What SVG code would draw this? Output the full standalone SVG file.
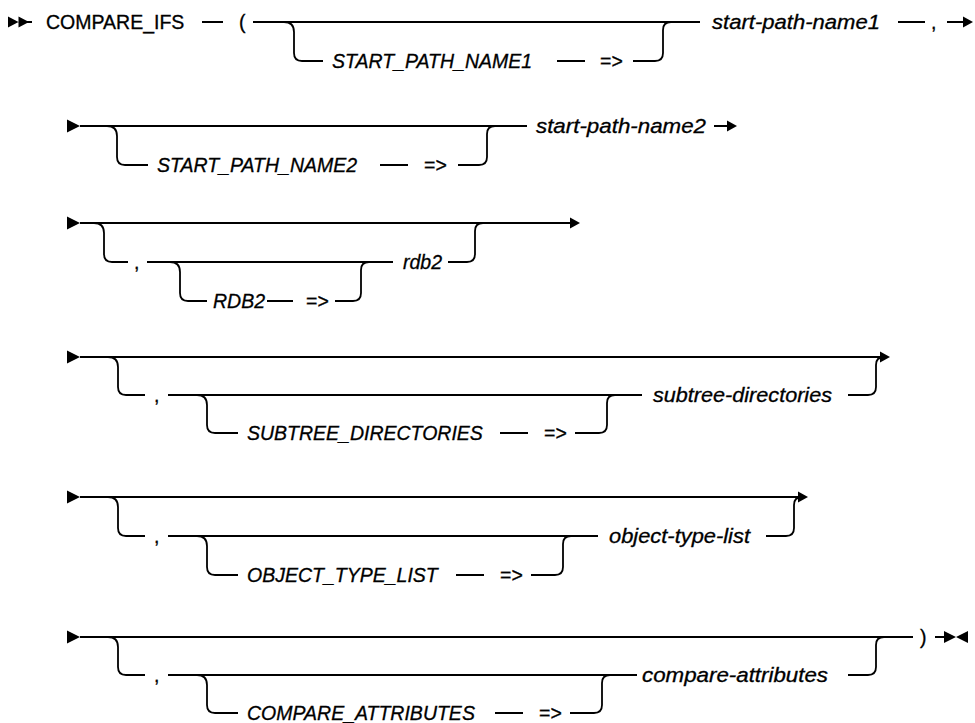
<svg xmlns="http://www.w3.org/2000/svg" xmlns:xlink="http://www.w3.org/1999/xlink" width="975" height="723" viewBox="0 0 975 723">
<defs>
<style>
.t{font-family:"Liberation Sans",Arial,sans-serif;font-size:19.5px;fill:#000;stroke:#000;stroke-width:0.3}
.i{font-style:italic}
.l{fill:none;stroke:#000;stroke-width:1.8}
.a{fill:#000;stroke:none}
</style>
<path id="tri" d="M0,-6.5 L13,0 L0,6.5 Z"/>
<path id="arr" d="M-10,-5.5 L0,0 L-10,5.5 Z"/>
</defs>
<rect width="975" height="723" fill="#fff"/>

<g id="connectors">
<!-- row 1 -->
<path class="l" d="M27,22 H32 M202,22 H223 M253,22 H700 M284,22 Q294,22 294,32 V53 Q294,61 302,61 H323 M557,61 H585 M633,61 H655 Q663,61 663,53 V30 Q663,22 671,22 M898,22 H925 M947,22 H964"/>
<!-- row 2 -->
<path class="l" d="M80,126 H527 M107,126 Q117,126 117,136 V157 Q117,165 125,165 H148 M380,165 H408 M458,165 H479 Q487,165 487,157 V134 Q487,126 495,126 M714,126 H728"/>
<!-- row 3 -->
<path class="l" d="M80,223 H571 M94,223 Q104,223 104,233 V254 Q104,262 112,262 H128 M147,262 H393 M170,262 Q180,262 180,272 V293 Q180,301 188,301 H207 M267,301 H293 M335,301 H353 Q361,301 361,293 V270 Q361,262 369,262 M448,262 H467 Q475,262 475,254 V231 Q475,223 483,223"/>
<!-- row 4 -->
<path class="l" d="M80,357 H881 M108,357 Q118,357 118,367 V387 Q118,395 126,395 H145 M168,395 H642 M197,395 Q207,395 207,405 V425 Q207,433 215,433 H238 M500,433 H528 M575,433 H599 Q607,433 607,425 V403 Q607,395 615,395 M848,395 H868 Q876,395 876,387 V365 Q876,357 884,357"/>
<!-- row 5 -->
<path class="l" d="M80,497 H799 M108,497 Q118,497 118,507 V528 Q118,536 126,536 H145 M168,536 H598 M197,536 Q207,536 207,546 V567 Q207,575 215,575 H238 M456,575 H484 M531,575 H555 Q563,575 563,567 V544 Q563,536 571,536 M766,536 H786 Q794,536 794,528 V505 Q794,497 802,497"/>
<!-- row 6 -->
<path class="l" d="M80,637 H913 M108,637 Q118,637 118,647 V667 Q118,675 126,675 H145 M168,675 H637 M197,675 Q207,675 207,685 V705 Q207,713 215,713 H238 M495,713 H523 M570,713 H594 Q602,713 602,705 V683 Q602,675 610,675 M848,675 H868 Q876,675 876,667 V645 Q876,637 884,637 M935,637 H945"/>
<!-- start / end markers -->
<path class="a" d="M8,16.5 L18.5,22 L8,27.5 Z M18.5,16.5 L29,22 L18.5,27.5 Z"/>
<use xlink:href="#tri" x="67" y="126" class="a"/>
<use xlink:href="#tri" x="67" y="223" class="a"/>
<use xlink:href="#tri" x="67" y="357" class="a"/>
<use xlink:href="#tri" x="67" y="497" class="a"/>
<use xlink:href="#tri" x="67" y="637" class="a"/>
<use xlink:href="#arr" x="973" y="22" class="a"/>
<use xlink:href="#arr" x="737" y="126" class="a"/>
<use xlink:href="#arr" x="580" y="223" class="a"/>
<use xlink:href="#arr" x="890" y="357" class="a"/>
<use xlink:href="#arr" x="808" y="497" class="a"/>
<path class="a" d="M944,631 L956,637 L944,643 Z M968,631 L956,637 L968,643 Z"/>
</g>

<!-- row 1 nodes -->
<g id="n-compare-ifs"><text class="t" x="46" y="29">COMPARE_IFS</text></g>
<g id="n-lparen"><text class="t" x="239" y="29">(</text></g>
<g id="n-kw-start1"><text class="t i" x="332" y="68">START_PATH_NAME1</text></g>
<g id="n-arrow1"><text class="t" x="600" y="68">=&gt;</text></g>
<g id="n-start1"><text class="t i" x="712" y="29" textLength="168" lengthAdjust="spacingAndGlyphs">start-path-name1</text></g>
<g id="n-comma1"><text class="t" x="931" y="29">,</text></g>

<!-- row 2 nodes -->
<g id="n-kw-start2"><text class="t i" x="157" y="172">START_PATH_NAME2</text></g>
<g id="n-arrow2"><text class="t" x="424" y="172">=&gt;</text></g>
<g id="n-start2"><text class="t i" x="536" y="133" textLength="170" lengthAdjust="spacingAndGlyphs">start-path-name2</text></g>

<!-- row 3 nodes -->
<g id="n-comma3"><text class="t" x="134" y="269">,</text></g>
<g id="n-kw-rdb2"><text class="t i" x="213" y="308">RDB2</text></g>
<g id="n-arrow3"><text class="t" x="306" y="308">=&gt;</text></g>
<g id="n-rdb2"><text class="t i" x="403" y="269">rdb2</text></g>

<!-- row 4 nodes -->
<g id="n-comma4"><text class="t" x="154" y="402">,</text></g>
<g id="n-kw-subtree"><text class="t i" x="247" y="440">SUBTREE_DIRECTORIES</text></g>
<g id="n-arrow4"><text class="t" x="544" y="440">=&gt;</text></g>
<g id="n-subtree"><text class="t i" x="653" y="402" textLength="179" lengthAdjust="spacingAndGlyphs">subtree-directories</text></g>

<!-- row 5 nodes -->
<g id="n-comma5"><text class="t" x="154" y="543">,</text></g>
<g id="n-kw-objtype"><text class="t i" x="247" y="582">OBJECT_TYPE_LIST</text></g>
<g id="n-arrow5"><text class="t" x="500" y="582">=&gt;</text></g>
<g id="n-objtype"><text class="t i" x="609" y="543" textLength="141" lengthAdjust="spacingAndGlyphs">object-type-list</text></g>

<!-- row 6 nodes -->
<g id="n-comma6"><text class="t" x="154" y="682">,</text></g>
<g id="n-kw-compattr"><text class="t i" x="247" y="720">COMPARE_ATTRIBUTES</text></g>
<g id="n-arrow6"><text class="t" x="539" y="720">=&gt;</text></g>
<g id="n-compattr"><text class="t i" x="642" y="682" textLength="186" lengthAdjust="spacingAndGlyphs">compare-attributes</text></g>
<g id="n-rparen"><text class="t" x="920" y="644">)</text></g>
</svg>
